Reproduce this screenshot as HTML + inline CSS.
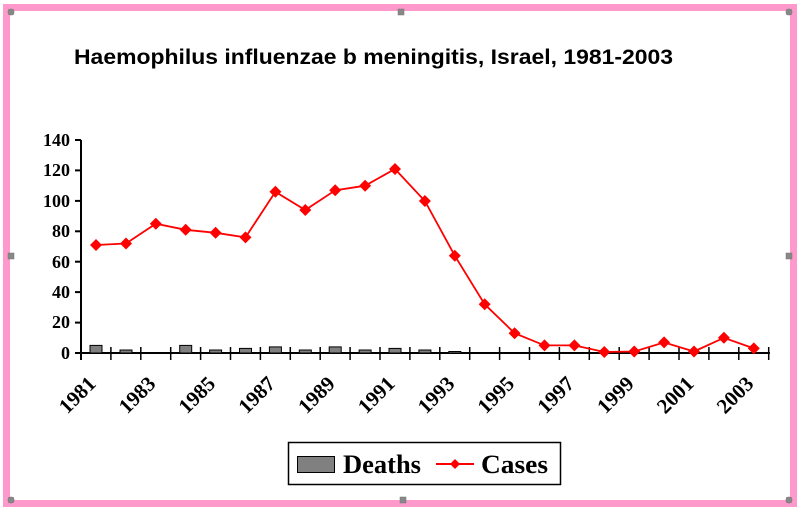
<!DOCTYPE html>
<html><head><style>body{margin:0;background:#fff}svg{display:block}</style></head><body>
<svg width="800" height="512" xmlns="http://www.w3.org/2000/svg">
<rect x="0" y="0" width="800" height="512" fill="#fff"/>
<rect x="6.5" y="7.5" width="787" height="496" fill="none" stroke="#ff99cc" stroke-width="7"/>
<g fill="#888" stroke="#777" stroke-width="0.5">
<rect x="8" y="9" width="6" height="6" rx="2"/><rect x="398" y="9" width="6" height="6"/><rect x="786" y="9" width="6" height="6" rx="2"/>
<rect x="8" y="253" width="6" height="6"/><rect x="786" y="253" width="6" height="6"/>
<rect x="8" y="497" width="6" height="6" rx="2"/><rect x="400" y="497" width="6" height="6"/><rect x="786" y="497" width="6" height="6" rx="2"/>
</g>
<text x="74" y="64" font-family="Liberation Sans, sans-serif" font-weight="bold" font-size="21" textLength="599" lengthAdjust="spacingAndGlyphs">Haemophilus influenzae b meningitis, Israel, 1981-2003</text>
<g font-family="Liberation Serif, serif" font-weight="bold" font-size="18" text-anchor="end">
<text x="70" y="146">140</text><text x="70" y="176">120</text><text x="70" y="207">100</text><text x="70" y="237">80</text><text x="70" y="268">60</text><text x="70" y="298">40</text><text x="70" y="328">20</text><text x="70" y="359">0</text>
</g>
<g stroke="#000" stroke-width="2">
<line x1="81" y1="140" x2="81" y2="360"/>
<line x1="81" y1="353" x2="770" y2="353"/>
<line x1="75" y1="140" x2="81" y2="140"/><line x1="75" y1="170.4" x2="81" y2="170.4"/><line x1="75" y1="200.9" x2="81" y2="200.9"/><line x1="75" y1="231.3" x2="81" y2="231.3"/><line x1="75" y1="261.7" x2="81" y2="261.7"/><line x1="75" y1="292.1" x2="81" y2="292.1"/><line x1="75" y1="322.6" x2="81" y2="322.6"/><line x1="75" y1="353" x2="81" y2="353"/>
</g>
<g stroke="#000" stroke-width="1.5">
<line x1="110.9" y1="347" x2="110.9" y2="360"/><line x1="140.8" y1="347" x2="140.8" y2="360"/><line x1="170.7" y1="347" x2="170.7" y2="360"/><line x1="200.6" y1="347" x2="200.6" y2="360"/><line x1="230.5" y1="347" x2="230.5" y2="360"/><line x1="260.4" y1="347" x2="260.4" y2="360"/><line x1="290.3" y1="347" x2="290.3" y2="360"/><line x1="320.2" y1="347" x2="320.2" y2="360"/><line x1="350.1" y1="347" x2="350.1" y2="360"/><line x1="380" y1="347" x2="380" y2="360"/><line x1="409.9" y1="347" x2="409.9" y2="360"/><line x1="439.8" y1="347" x2="439.8" y2="360"/><line x1="469.7" y1="347" x2="469.7" y2="360"/><line x1="499.6" y1="347" x2="499.6" y2="360"/><line x1="529.5" y1="347" x2="529.5" y2="360"/><line x1="559.4" y1="347" x2="559.4" y2="360"/><line x1="589.3" y1="347" x2="589.3" y2="360"/><line x1="619.2" y1="347" x2="619.2" y2="360"/><line x1="649.1" y1="347" x2="649.1" y2="360"/><line x1="679" y1="347" x2="679" y2="360"/><line x1="708.9" y1="347" x2="708.9" y2="360"/><line x1="738.8" y1="347" x2="738.8" y2="360"/><line x1="768.7" y1="347" x2="768.7" y2="360"/>
</g>
<g fill="#808080" stroke="#000" stroke-width="1">
<rect x="90" y="345.4" width="12" height="7.6"/><rect x="120" y="350" width="12" height="3"/><rect x="179.7" y="345.4" width="12" height="7.6"/><rect x="209.6" y="350" width="12" height="3"/><rect x="239.5" y="348.4" width="12" height="4.6"/><rect x="269.4" y="346.9" width="12" height="6.1"/><rect x="299.3" y="350" width="12" height="3"/><rect x="329.2" y="346.9" width="12" height="6.1"/><rect x="359.1" y="350" width="12" height="3"/><rect x="389" y="348.4" width="12" height="4.6"/><rect x="418.9" y="350" width="12" height="3"/><rect x="448.8" y="351.5" width="12" height="1.5"/>
</g>
<polyline fill="none" stroke="#ff0000" stroke-width="1.8" points="96,245 126,243.5 155.8,223.7 185.7,229.8 215.6,232.8 245.5,237.4 275.4,191.8 305.3,210 335.2,190.3 365.1,185.7 395,169 424.9,201 454.8,255.7 484.7,304.3 514.6,333.2 544.5,345.4 574.4,345.4 604.3,352 634.2,351.5 664.1,342.4 694,351.5 723.9,337.8 753.8,348.4"/>
<g fill="#ff0000">
<path d="M96 239l6 6-6 6-6-6z M126 237.5l6 6-6 6-6-6z M155.8 217.7l6 6-6 6-6-6z M185.7 223.8l6 6-6 6-6-6z M215.6 226.8l6 6-6 6-6-6z M245.5 231.4l6 6-6 6-6-6z M275.4 185.8l6 6-6 6-6-6z M305.3 204l6 6-6 6-6-6z M335.2 184.3l6 6-6 6-6-6z M365.1 179.7l6 6-6 6-6-6z M395 163l6 6-6 6-6-6z M424.9 195l6 6-6 6-6-6z M454.8 249.7l6 6-6 6-6-6z M484.7 298.3l6 6-6 6-6-6z M514.6 327.2l6 6-6 6-6-6z M544.5 339.4l6 6-6 6-6-6z M574.4 339.4l6 6-6 6-6-6z M604.3 346l6 6-6 6-6-6z M634.2 345.5l6 6-6 6-6-6z M664.1 336.4l6 6-6 6-6-6z M694 345.5l6 6-6 6-6-6z M723.9 331.8l6 6-6 6-6-6z M753.8 342.4l6 6-6 6-6-6z"/>
</g>
<g font-family="Liberation Serif, serif" font-weight="bold" font-size="21" text-anchor="end">
<text transform="translate(97,385) rotate(-45)">1981</text>
<text transform="translate(156.8,385) rotate(-45)">1983</text>
<text transform="translate(216.6,385) rotate(-45)">1985</text>
<text transform="translate(276.4,385) rotate(-45)">1987</text>
<text transform="translate(336.2,385) rotate(-45)">1989</text>
<text transform="translate(396,385) rotate(-45)">1991</text>
<text transform="translate(455.8,385) rotate(-45)">1993</text>
<text transform="translate(515.6,385) rotate(-45)">1995</text>
<text transform="translate(575.4,385) rotate(-45)">1997</text>
<text transform="translate(635.2,385) rotate(-45)">1999</text>
<text transform="translate(695,385) rotate(-45)">2001</text>
<text transform="translate(754.8,385) rotate(-45)">2003</text>
</g>
<rect x="288.5" y="442.5" width="272" height="42" fill="#fff" stroke="#000" stroke-width="1.5"/>
<rect x="297.5" y="456.5" width="37" height="16" fill="#808080" stroke="#000" stroke-width="1"/>
<line x1="436" y1="464" x2="474" y2="464" stroke="#ff0000" stroke-width="2"/>
<path d="M455 459l5 5-5 5-5-5z" fill="#ff0000"/>
<g font-family="Liberation Serif, serif" font-weight="bold" font-size="26">
<text x="343" y="473" textLength="78" lengthAdjust="spacingAndGlyphs">Deaths</text>
<text x="481" y="473" textLength="67" lengthAdjust="spacingAndGlyphs">Cases</text>
</g>
</svg>
</body></html>
